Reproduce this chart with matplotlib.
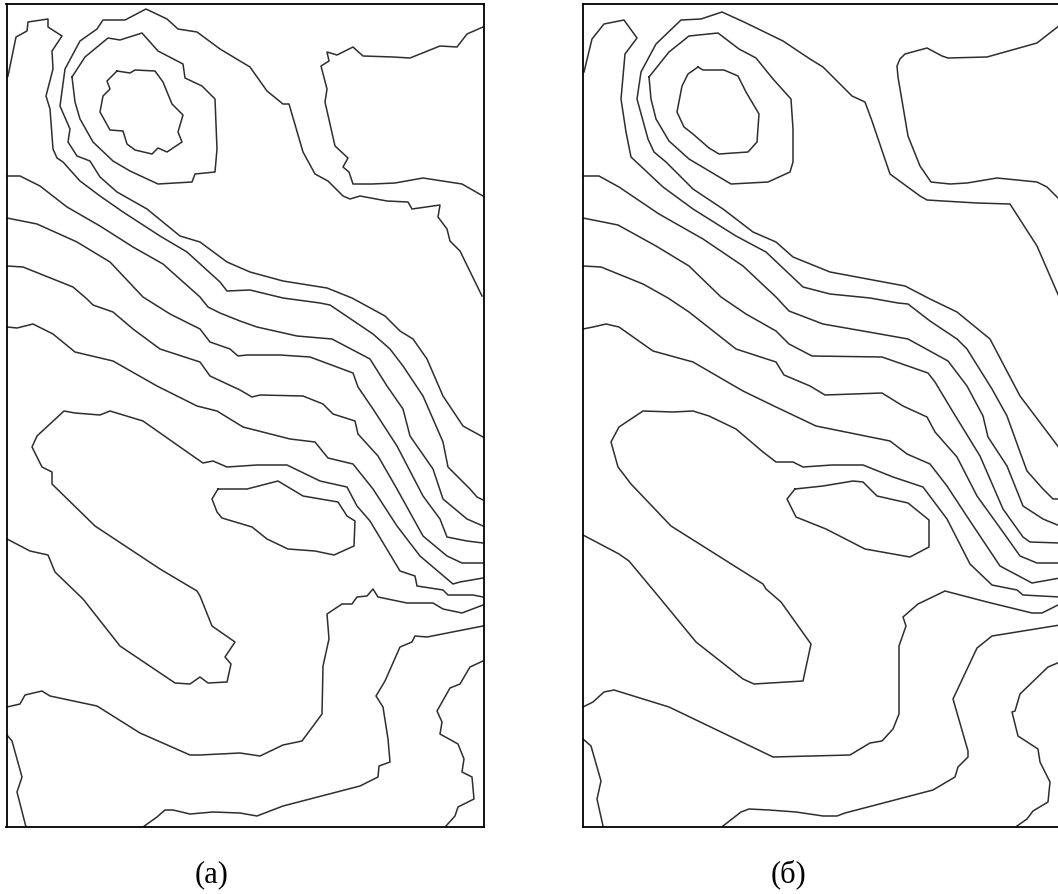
#!/usr/bin/env python3
"""Two contour maps side by side, (a) raw and (б) smoothed. Traced in picture pixels."""
import numpy as np
import matplotlib; matplotlib.use('Agg')
import matplotlib.pyplot as plt

W, H = 1058, 895
LINE = '#2e2e2e'

# panel (a)
a_hook = [(8,77),(16,38),(27,32),(28,23),(48,20),(48,28),(62,37),(52,52),(53,70),(46,97),(50,110),(53,150),(57,159),(63,163),
          (80,182),(100,197),(123,213),(160,237),(187,253),(220,283),(227,292),(250,291),(283,299),(320,304),(330,306),
          (373,335),(390,350),(403,367),(423,397),(443,443),(448,468),(470,490),(477,498),(483,501)]
a_outer = [(482,297),(460,252),(450,242),(447,230),(438,218),(440,206),(412,210),(408,203),(387,202),(360,197),(350,200),
           (343,197),(328,182),(315,175),(303,153),(289,105),(283,105),(267,92),(250,68),(220,50),(197,33),(178,30),(167,20),
           (146,10),(125,21),(103,21),(97,30),(80,42),(65,70),(60,107),(70,130),(68,143),(77,157),(90,162),(100,178),(117,193),
           (147,210),(180,237),(200,243),(227,263),(250,273),(283,282),(327,289),(352,299),(385,317),(400,332),(413,340),
           (427,360),(443,397),(463,427),(483,438)]
a_topright = [(483,28),(467,35),(457,48),(440,47),(410,59),(393,58),(363,57),(353,48),(337,56),(327,53),(329,62),(321,67),
              (327,90),(325,103),(335,147),(348,159),(343,168),(349,173),(353,185),(372,185),(395,184),(423,179),(462,185),(483,197)]
a_loop = [(72,78),(85,58),(108,39),(120,41),(142,34),(158,52),(183,65),(185,79),(202,87),(215,100),(217,150),(215,173),(195,175),
          (192,183),(158,185),(130,172),(113,162),(93,143),(80,120),(75,103),(72,78)]
a_inner = [(117,72),(130,74),(135,71),(155,72),(163,83),(172,105),(183,116),(178,133),(182,143),(167,153),(158,149),(152,155),
           (135,151),(127,145),(123,132),(110,131),(100,113),(103,97),(110,90),(107,82),(117,72)]
a_band1 = [(7,177),(20,177),(40,187),(67,208),(100,227),(133,248),(163,265),(200,298),(208,308),(220,314),(240,322),(257,328),
           (297,337),(332,340),(370,360),(387,387),(403,410),(410,437),(433,470),(443,500),(467,520),(483,527)]
a_band2 = [(7,219),(37,225),(77,243),(110,263),(143,298),(170,315),(200,330),(210,343),(230,350),(238,357),(247,356),(280,356),
           (310,358),(353,374),(358,388),(373,410),(397,447),(423,497),(440,520),(447,538),(467,542),(483,544)]
a_band3 = [(7,267),(23,268),(73,288),(87,300),(93,306),(113,313),(133,330),(160,350),(200,363),(210,377),(240,391),(252,398),
           (260,396),(303,397),(323,405),(333,415),(355,422),(358,435),(378,457),(397,490),(423,537),(447,557),(462,564),(483,564)]
a_band4 = [(7,328),(17,329),(33,325),(53,335),(75,353),(113,362),(157,387),(197,407),(217,412),(243,428),(290,440),(315,443),
           (328,459),(353,465),(373,490),(397,527),(420,557),(453,585),(460,583),(483,579)]
a_basin = [(7,540),(30,552),(48,556),(55,573),(83,600),(120,647),(175,684),(190,685),(200,678),(208,684),(227,683),(231,665),
           (225,658),(235,643),(212,627),(200,597),(197,592),(160,570),(95,527),(52,485),(52,473),(42,468),(32,448),(37,437),
           (64,412),(75,414),(100,416),(110,412),(143,422),(190,455),(203,464),(213,462),(227,468),(257,466),(287,466),(320,482),
           (347,488),(357,507),(370,522),(400,572),(415,577),(417,587),(443,591),(448,596),(473,596),(483,598)]
a_island = [(218,490),(247,490),(278,482),(303,497),(338,503),(347,517),(355,522),(354,547),(334,556),(315,552),(288,550),
            (267,540),(252,528),(222,519),(217,513),(212,500),(218,490)]
a_valley = [(7,708),(20,705),(25,696),(42,692),(50,697),(97,707),(140,734),(190,756),(200,756),(240,754),(260,757),(283,746),
            (302,742),(322,715),(323,667),(329,640),(327,615),(342,605),(352,605),(357,598),(367,597),(373,590),(378,598),
            (407,604),(433,604),(443,610),(462,614),(483,606)]
a_lower = [(483,627),(427,638),(415,637),(412,643),(400,648),(385,682),(376,697),(383,708),(388,740),(390,763),(379,767),
           (378,778),(360,787),(283,807),(257,817),(240,814),(213,813),(190,815),(173,811),(165,811),(157,818),(143,828)]
a_corner = [(483,662),(470,668),(460,685),(450,689),(437,712),(442,723),(440,735),(458,745),(464,760),(462,773),(472,778),
            (474,800),(458,808),(455,817),(446,827)]
a_edge = [(7,736),(12,742),(22,778),(17,793),(26,828)]

# panel (б)
b_hook = [(584,73),(592,40),(604,25),(624,21),(637,39),(625,55),(621,100),(626,133),(631,158),(663,188),(693,210),(736,237),
          (766,253),(803,288),(830,295),(870,299),(898,304),(908,305),(930,322),(957,340),(967,350),(992,390),(1007,417),
          (1020,453),(1027,472),(1043,490),(1053,500),(1060,500)]
b_outer = [(1060,300),(1037,247),(1010,205),(977,204),(943,202),(927,201),(920,197),(890,175),(872,122),(865,103),(852,97),
           (838,83),(823,68),(810,60),(783,42),(744,23),(722,13),(701,20),(681,21),(656,45),(641,73),(637,100),(648,140),
           (654,153),(666,163),(693,190),(723,210),(753,233),(776,243),(793,258),(830,273),(905,287),(930,300),(957,313),
           (990,340),(1020,397),(1060,450)]
b_topright = [(1060,26),(1037,44),(987,58),(948,59),(942,57),(927,49),(905,55),(900,60),(897,67),(898,78),(908,137),(920,167),
              (931,183),(950,185),(967,184),(997,179),(1037,183),(1047,188),(1060,201)]
b_loop = [(649,78),(669,53),(689,37),(718,34),(739,50),(756,59),(773,80),(791,100),(793,130),(793,163),(790,173),(768,183),
          (731,185),(689,160),(669,142),(656,120),(651,100),(649,78)]
b_inner = [(698,68),(703,71),(724,71),(738,77),(746,93),(759,115),(757,143),(748,153),(719,155),(709,149),(693,135),(684,128),
           (677,113),(682,87),(688,75),(698,68)]
b_band1 = [(583,177),(599,177),(619,188),(659,215),(703,240),(743,267),(776,298),(789,312),(823,325),(880,335),(908,340),
           (948,362),(967,387),(983,417),(988,438),(1007,467),(1023,507),(1043,520),(1060,527)]
b_band2 = [(583,219),(618,226),(656,247),(689,267),(721,298),(746,315),(776,332),(789,345),(812,357),(882,358),(928,374),
           (935,383),(953,413),(980,457),(1003,510),(1023,538),(1030,543),(1060,544)]
b_band3 = [(583,267),(601,268),(643,285),(668,299),(689,313),(736,350),(776,363),(784,376),(810,387),(825,396),(882,394),
           (903,407),(927,418),(935,433),(957,458),(977,497),(1003,533),(1020,557),(1037,564),(1060,564)]
b_band4 = [(583,330),(593,328),(606,325),(619,328),(653,352),(693,363),(743,392),(776,408),(816,427),(890,442),(907,455),
           (930,465),(947,487),(970,522),(1000,567),(1032,584),(1060,579)]
b_basin = [(583,536),(619,555),(629,562),(659,598),(696,643),(743,680),(754,685),(803,682),(811,645),(781,603),(766,590),
           (763,585),(671,527),(631,485),(618,468),(611,443),(619,428),(643,412),(673,413),(693,412),(709,417),(736,430),
           (763,453),(776,463),(793,463),(803,468),(832,466),(863,466),(893,478),(923,488),(947,520),(970,565),(992,586),
           (1017,591),(1023,596),(1060,598)]
b_island = [(795,490),(823,487),(853,482),(863,483),(877,497),(908,504),(929,521),(929,548),(910,558),(865,550),(826,530),
            (796,518),(787,500),(795,490)]
b_valley = [(583,708),(593,703),(604,693),(614,691),(669,708),(719,732),(773,758),(850,756),(870,744),(882,742),(893,730),
            (899,715),(899,647),(906,627),(903,618),(918,605),(945,592),(987,603),(1032,614),(1042,614),(1060,605)]
b_lower = [(1060,626),(992,637),(977,649),(953,700),(968,752),(968,758),(958,768),(955,778),(933,791),(845,814),(837,817),
           (823,817),(796,813),(769,811),(749,810),(741,813),(723,827)]
b_corner = [(1060,663),(1048,668),(1020,695),(1015,712),(1012,713),(1018,737),(1038,750),(1040,763),(1050,783),(1048,803),
            (1033,812),(1027,820),(1017,827)]
b_edge = [(583,740),(591,747),(601,782),(597,800),(603,827)]

panel_a = [a_hook,a_outer,a_topright,a_loop,a_inner,a_band1,a_band2,a_band3,a_band4,a_basin,a_island,a_valley,a_lower,a_corner,a_edge]
panel_b = [b_hook,b_outer,b_topright,b_loop,b_inner,b_band1,b_band2,b_band3,b_band4,b_basin,b_island,b_valley,b_lower,b_corner,b_edge]
labels = ['(а)', '(б)']

TOP, BOT = 5, 828
boxes = [(6.5,484), (583,1060)]
label_x = [212, 789]

fig = plt.figure(figsize=(W/100, H/100), dpi=100, facecolor='white')
for lines, (x0,x1), lab, lx in zip([panel_a,panel_b], boxes, labels, label_x):
    ax = fig.add_axes([x0/W, 1-BOT/H, (x1-x0)/W, (BOT-TOP)/H])
    for ln in lines:
        pts = np.array(ln)
        ax.plot(pts[:,0], pts[:,1], color=LINE, lw=1.1)
    ax.set_xlim(x0,x1); ax.set_ylim(BOT,TOP)
    ax.set_xticks([]); ax.set_yticks([])
    for s in ax.spines.values(): s.set_linewidth(1.3); s.set_color('black')
    fig.text(lx/W, 1-882/H, lab, ha='center', va='baseline', family='Liberation Serif', fontsize=22, color='black')

fig.savefig('out.png', dpi=100)
